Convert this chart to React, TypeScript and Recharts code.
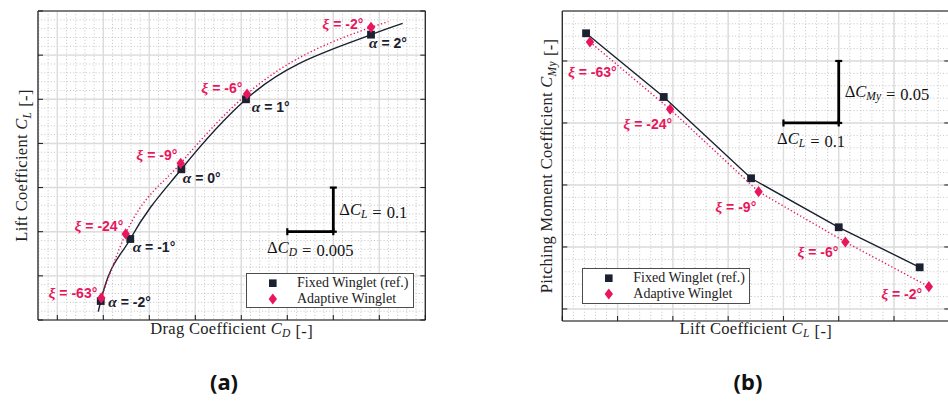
import React from 'react'
import { ScatterChart, Scatter, XAxis, YAxis, CartesianGrid, ReferenceLine, Legend } from 'recharts'

// names / labels
const seriesNames = ['Fixed Winglet (ref.)', 'Adaptive Winglet']
const alphaLabels = ['α = -2°', 'α = -1°', 'α = 0°', 'α = 1°', 'α = 2°']
const xiLabels = ['ξ = -63°', 'ξ = -24°', 'ξ = -9°', 'ξ = -6°', 'ξ = -2°']

// drag polar (a)
const cdFixed = [0.01472, 0.01793, 0.02348, 0.03051, 0.0441]
const clFixed = [0.043, 0.1835, 0.3414, 0.5, 0.6464]
const cdAdaptive = [0.01478, 0.01743, 0.02341, 0.03062, 0.0441]
const clAdaptive = [0.05, 0.195, 0.355, 0.512, 0.663]
const cdFitFixed = [0.01445, ...cdFixed, 0.04754]
const clFitFixed = [0.0188, ...clFixed, 0.672]
const cdFitAdaptive = [...cdAdaptive, 0.04598]
const clFitAdaptive = [...clAdaptive, 0.6758]

// pitching moment (b)
const cmyFixed = [-0.02766, -0.07903, -0.1446, -0.1841, -0.2164]
const cmyAdaptive = [-0.03468, -0.08895, -0.1554, -0.196, -0.232]

// axis ticks (no tick labels in the figure)
const cdTicks = [0.01, 0.015, 0.02, 0.025, 0.03, 0.035, 0.04, 0.045, 0.05]
const clTicks = [0, 0.1, 0.2, 0.3, 0.4, 0.5, 0.6, 0.7]
const cmyTicks = [-0.25, -0.2, -0.15, -0.1, -0.05]

// scale bars
const dCD = 0.005
const dCL = 0.1
const dCMy = 0.05

const pts = (xs: number[], ys: number[]) => xs.map((x, i) => ({ x, y: ys[i], i }))

// ---- layout / style ----
const INK = '#1b2130'
const PINK = '#e8175d'
const SERIF = '"Liberation Serif", serif'
const SANS = '"Liberation Sans", Arial, sans-serif'

// label offsets from marker: [dx, dy]
const alphaOffA = [[7.6, 0.7], [2.4, 7.7], [1.4, 8.4], [5.7, 7.4], [-2, 8.6]]
const xiOffA = [[-4, -5], [-2.4, -8], [-3.4, -8.3], [-4.7, -6], [-7.7, -3.7]]
const xiOffB = [[26.7, 29.7], [2, 14.7], [-2.3, 15], [-7, 10.3], [-6.7, 7.3]]

const minor = (lo: number, hi: number, step: number) => {
  const out: number[] = []
  for (let k = Math.ceil(lo / step); k * step <= hi + 1e-9; k++) out.push(+(k * step).toFixed(6))
  return out
}

const axisLine = { stroke: '#1a1a1a', strokeWidth: 1.2 }
const tickLine = { stroke: '#1a1a1a', strokeWidth: 1 }
const noTick = () => <g />

function PointLabel({ x, y, text, anchor }: any) {
  const [greek, ...rest] = text.split(' ')
  return (
    <text x={x} y={y + 5} textAnchor={anchor} fontFamily={SANS} fontWeight="bold" fontSize={14}>
      <tspan fontFamily={SERIF} fontStyle="italic" fontSize={15.5}>{greek}</tspan>
      {' ' + rest.join(' ')}
    </text>
  )
}

const squareShape = (offs: number[][] | null) => (p: any) => {
  const { cx, cy, payload } = p
  return (
    <g>
      <rect x={cx - 3.9} y={cy - 3.9} width={7.8} height={7.8} fill={INK} />
      {offs && (
        <g fill={INK}>
          <PointLabel x={cx + offs[payload.i][0]} y={cy + offs[payload.i][1]} text={alphaLabels[payload.i]} anchor="start" />
        </g>
      )}
    </g>
  )
}

const diamondShape = (offs: number[][]) => (p: any) => {
  const { cx, cy, payload } = p
  return (
    <g>
      <path d={`M${cx},${cy - 5.6}L${cx + 4.2},${cy}L${cx},${cy + 5.6}L${cx - 4.2},${cy}Z`} fill={PINK} />
      <g fill={PINK}>
        <PointLabel x={cx + offs[payload.i][0]} y={cy + offs[payload.i][1]} text={xiLabels[payload.i]} anchor="end" />
      </g>
    </g>
  )
}

const noShape = () => <g />

function MathSym({ sym, sub }: { sym: string; sub: string }) {
  return (
    <>
      <tspan fontStyle="italic">{sym}</tspan>
      <tspan fontStyle="italic" fontSize={11.5} dy={3.5}>{sub}</tspan>
      <tspan dy={-3.5}>{''}</tspan>
    </>
  )
}

// scale bar drawn over a reference segment
const scaleBar = (dir: 'h' | 'v', sub: string, value: string) => (p: any) => {
  const { x1, y1, x2, y2 } = p
  const cap = 3.5
  const caps =
    dir === 'h'
      ? [[x1, y1 - cap, x1, y1 + cap], [x2, y2 - cap, x2, y2 + cap]]
      : [[x1 - cap, y1, x1 + cap, y1], [x2 - cap, y2, x2 + cap, y2]]
  const tx = dir === 'h' ? (x1 + x2) / 2 : x1 + 6
  const ty = dir === 'h' ? y1 + 21 : (y1 + y2) / 2 + 5
  return (
    <g>
      <line x1={x1} y1={y1} x2={x2} y2={y2} stroke="#000" strokeWidth={2.8} />
      {caps.map((c, k) => (
        <line key={k} x1={c[0]} y1={c[1]} x2={c[2]} y2={c[3]} stroke="#000" strokeWidth={2.2} />
      ))}
      <text x={tx} y={ty} textAnchor={dir === 'h' ? 'middle' : 'start'} fontFamily={SERIF} fontSize={16.5} fill="#111">
        Δ<MathSym sym="C" sub={sub} />
        <tspan dx={5}>=</tspan>
        <tspan dx={5}>{value}</tspan>
      </text>
    </g>
  )
}

function LegendBox() {
  return (
    <div
      style={{
        width: '100%',
        height: '100%',
        boxSizing: 'border-box',
        border: '1.4px solid #4d4d4d',
        background: '#fff',
        position: 'relative',
        fontFamily: SERIF,
        fontSize: 14,
        color: '#222',
      }}
    >
      {seriesNames.map((name, k) => (
        <div key={name} style={{ position: 'absolute', left: 0, top: k === 0 ? 0 : 15.6, height: 18, width: '100%' }}>
          <svg width={40} height={18} style={{ position: 'absolute', left: 0, top: 0 }}>
            {k === 0 ? (
              <rect x={22} y={5.4} width={7.6} height={7.6} fill={INK} />
            ) : (
              <path d="M25.8,3.4L30,9L25.8,14.6L21.6,9Z" fill={PINK} />
            )}
          </svg>
          <span style={{ position: 'absolute', left: 50, top: 0, lineHeight: '18px', whiteSpace: 'nowrap' }}>{name}</span>
        </div>
      ))}
    </div>
  )
}

const xTitle = (label: React.ReactNode, dy: number) => (p: any) => {
  const vb = p.viewBox
  return (
    <text x={vb.x + vb.width / 2} y={vb.y + dy} textAnchor="middle" fontFamily={SERIF} fontSize={16.5} letterSpacing={0.3} fill="#222">
      {label}
    </text>
  )
}

const yTitle = (label: React.ReactNode, dx: number) => (p: any) => {
  const vb = p.viewBox
  const x = vb.x + dx
  const y = vb.y + vb.height / 2
  return (
    <text x={x} y={y} transform={`rotate(-90 ${x} ${y})`} textAnchor="middle" fontFamily={SERIF} fontSize={16.5} letterSpacing={0.3} fill="#222">
      {label}
    </text>
  )
}

function axes(xDomain: number[], xTicks: number[], yDomain: number[], yTicks: number[], xLab: any, yLab: any) {
  const common = { type: 'number' as const, allowDataOverflow: true, tick: noTick, interval: 0, tickSize: -5, axisLine, tickLine }
  return [
    <XAxis key="xb" xAxisId={0} dataKey="x" domain={xDomain} ticks={xTicks} height={10} label={xLab} {...common} />,
    <XAxis key="xt" xAxisId="top" orientation="top" domain={xDomain} ticks={xTicks} height={10} {...common} />,
    <YAxis key="yl" yAxisId={0} dataKey="y" domain={yDomain} ticks={yTicks} width={10} label={yLab} {...common} />,
    <YAxis key="yr" yAxisId="right" orientation="right" domain={yDomain} ticks={yTicks} width={10} {...common} />,
  ]
}

function DragPolar() {
  const xDom = [0.0079, 0.05]
  const yDom = [0, 0.7]
  return (
    <ScatterChart width={440} height={345} margin={{ top: 1, left: 28, right: 4.7, bottom: 15 }}>
      <CartesianGrid verticalValues={minor(xDom[0], xDom[1], 0.001)} horizontalValues={minor(yDom[0], yDom[1], 0.02)} stroke="#c4c4c4" strokeDasharray="1 2.2" />
      <CartesianGrid stroke="#dcdcdc" strokeWidth={1.4} />
      {axes(
        xDom,
        cdTicks,
        yDom,
        clTicks,
        xTitle(<>Drag Coefficient <MathSym sym="C" sub="D" /><tspan dx={5}>[-]</tspan></>, 13.5),
        yTitle(<>Lift Coefficient <MathSym sym="C" sub="L" /><tspan dx={5}>[-]</tspan></>, -1)
      )}
      <ReferenceLine segment={[{ x: 0.035, y: 0.2 }, { x: 0.035 + dCD, y: 0.2 }]} shape={scaleBar('h', 'D', '0.005')} />
      <ReferenceLine segment={[{ x: 0.035 + dCD, y: 0.2 + dCL }, { x: 0.035 + dCD, y: 0.2 }]} shape={scaleBar('v', 'L', '0.1')} />
      <Scatter data={pts(cdFitFixed, clFitFixed)} shape={noShape} line={{ stroke: INK, strokeWidth: 1.4 }} lineJointType="monotoneX" legendType="none" isAnimationActive={false} />
      <Scatter data={pts(cdFitAdaptive, clFitAdaptive)} shape={noShape} line={{ stroke: PINK, strokeWidth: 1.4, strokeDasharray: '1.3 2.3' }} lineJointType="monotoneX" legendType="none" isAnimationActive={false} />
      <Scatter name={seriesNames[0]} data={pts(cdFixed, clFixed)} shape={squareShape(alphaOffA)} isAnimationActive={false} />
      <Scatter name={seriesNames[1]} data={pts(cdAdaptive, clAdaptive)} shape={diamondShape(xiOffA)} isAnimationActive={false} />
      <Legend layout="vertical" align="center" verticalAlign="middle" content={LegendBox} wrapperStyle={{ left: 246, top: 273.3, width: 168.3, height: 35 }} />
    </ScatterChart>
  )
}

function MomentPlot() {
  const xDom = [0, 0.7]
  const yDom = [-0.2597, -0.0097]
  return (
    <ScatterChart width={440} height={345} margin={{ top: 1, left: 32.3, right: 0.7, bottom: 14 }}>
      <CartesianGrid verticalValues={minor(xDom[0], xDom[1], 0.02)} horizontalValues={minor(yDom[0], yDom[1], 0.01)} stroke="#c4c4c4" strokeDasharray="1 2.2" />
      <CartesianGrid stroke="#dcdcdc" strokeWidth={1.4} />
      {axes(
        xDom,
        clTicks,
        yDom,
        cmyTicks,
        xTitle(<>Lift Coefficient <MathSym sym="C" sub="L" /><tspan dx={5}>[-]</tspan></>, 12.5),
        yTitle(<>Pitching Moment Coefficient <MathSym sym="C" sub="My" /><tspan dx={5}>[-]</tspan></>, -0.3)
      )}
      <ReferenceLine segment={[{ x: 0.4, y: -0.1 }, { x: 0.4 + dCL, y: -0.1 }]} shape={scaleBar('h', 'L', '0.1')} />
      <ReferenceLine segment={[{ x: 0.4 + dCL, y: -0.1 + dCMy }, { x: 0.4 + dCL, y: -0.1 }]} shape={scaleBar('v', 'My', '0.05')} />
      <Scatter name={seriesNames[0]} data={pts(clFixed, cmyFixed)} shape={squareShape(null)} line={{ stroke: INK, strokeWidth: 1.4 }} isAnimationActive={false} />
      <Scatter name={seriesNames[1]} data={pts(clAdaptive, cmyAdaptive)} shape={diamondShape(xiOffB)} line={{ stroke: PINK, strokeWidth: 1.4, strokeDasharray: '1.3 2.3' }} isAnimationActive={false} />
      <Legend layout="vertical" align="center" verticalAlign="middle" content={LegendBox} wrapperStyle={{ left: 62.3, top: 268.3, width: 167.7, height: 35.7 }} />
    </ScatterChart>
  )
}

const panelTag = { position: 'absolute' as const, top: 366, width: 60, textAlign: 'center' as const, fontFamily: '"Noto Sans", sans-serif', fontWeight: 700, fontSize: 22, color: '#111' }

export default function App() {
  return (
    <div style={{ position: 'absolute', left: 0, top: 0, width: 948, height: 401, overflow: 'hidden', background: '#fff' }}>
      <div style={{ position: 'absolute', left: 0, top: 0 }}>
        <DragPolar />
      </div>
      <div style={{ position: 'absolute', left: 520, top: 0 }}>
        <MomentPlot />
      </div>
      <div style={{ ...panelTag, left: 194 }}>(a)</div>
      <div style={{ ...panelTag, left: 718 }}>(b)</div>
    </div>
  )
}
